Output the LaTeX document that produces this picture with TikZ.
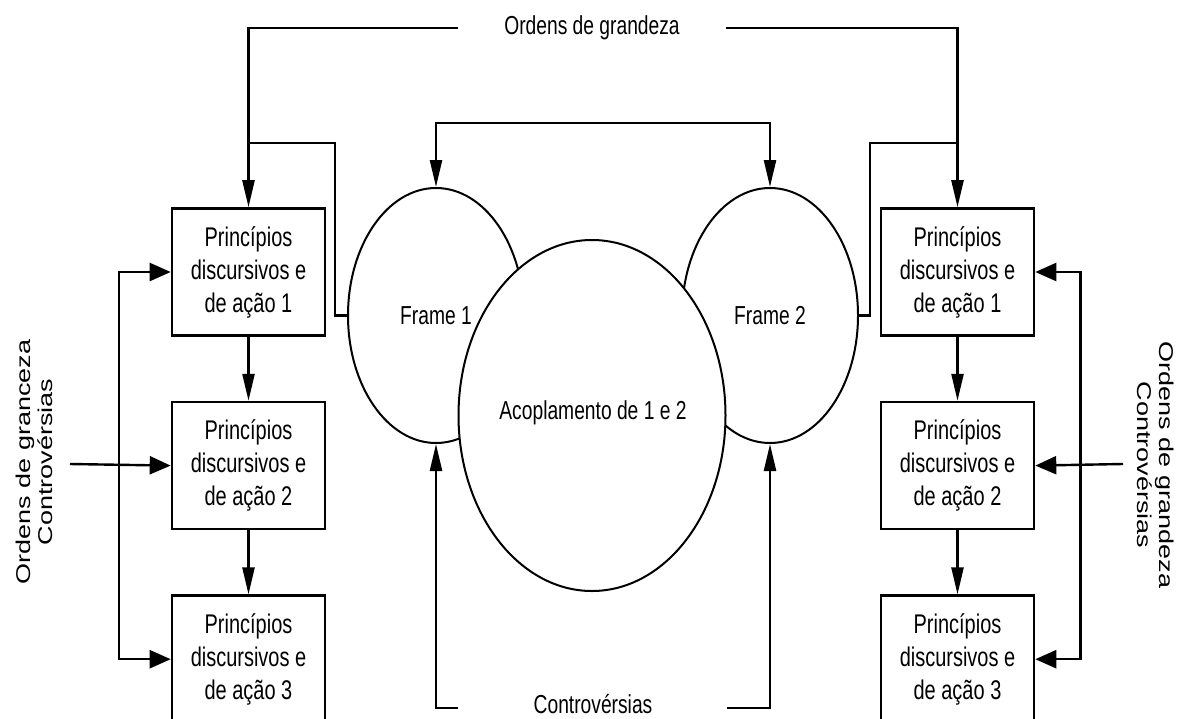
\documentclass[tikz,border=0pt]{standalone}
\usepackage{fontspec}
\setmainfont{Liberation Sans}
\newfontfamily\narrowsans[FakeStretch=0.74]{Liberation Sans}
\usetikzlibrary{arrows.meta,positioning,shapes.geometric}

\begin{document}
\begin{tikzpicture}[x=1pt, y=-1pt, node distance=64pt, line width=2.4pt,
    box/.style = {draw, line width=2.6pt, minimum width=153pt, minimum height=127pt,
        inner sep=0pt, align=center, font=\narrowsans\fontsize{27}{33}\selectfont},
    frame/.style = {draw, ellipse, line width=2pt, minimum width=176pt, minimum height=255pt,
        inner sep=0pt, font=\narrowsans\fontsize{26}{30}\selectfont},
    lbl/.style = {inner sep=0pt, font=\narrowsans\fontsize{26}{30}\selectfont},
    side/.style = {inner sep=0pt, align=center, font=\fontsize{27}{30}\selectfont},
    varr/.style = {-{Triangle[length=27pt,width=12pt]}},
    vboth/.style = {{Triangle[length=27pt,width=12pt]}-{Triangle[length=27pt,width=12pt]}},
    harr/.style = {-{Triangle[length=21pt,width=18pt]}},
    hboth/.style = {{Triangle[length=21pt,width=18pt]}-{Triangle[length=21pt,width=18pt]}}]
        \useasboundingbox (0,0) rectangle (1178,718);

        % left column
        \node[box] (pl1) at (248.5,272) {Princípios\\discursivos e\\de ação 1};
        \node[box] (pl2) [below=of pl1] {Princípios\\discursivos e\\de ação 2};
        \node[box] (pl3) [below=of pl2] {Princípios\\discursivos e\\de ação 3};
        % right column
        \node[box] (pr1) at (957.5,272) {Princípios\\discursivos e\\de ação 1};
        \node[box] (pr2) [below=of pr1] {Princípios\\discursivos e\\de ação 2};
        \node[box] (pr3) [below=of pr2] {Princípios\\discursivos e\\de ação 3};

        % frames and coupling
        \node[frame] (f1) at (436,315.5) {Frame 1};
        \node[frame] (f2) at (770,315.5) {Frame 2};
        \node[frame, fill=white, minimum width=267pt, minimum height=351pt] (ac) at (592,415.5) {};
        \node[lbl] (act) at (593,413) {Acoplamento de 1 e 2};

        % texts
        \node[lbl] (og) at (592,28) {Ordens de grandeza};
        \node[lbl] (ct) at (593,704) {Controvérsias};
        \node[side, rotate=90, yscale=0.74] (ogl) at (34,462) {Ordens de granceza\\Controvérsias};
        \node[side, rotate=-90, yscale=0.74] (ogr) at (1156,465) {Ordens de grandeza\\Controvérsias};

        \coordinate (tl) at (458,28);
        \coordinate (tr) at (726,28);
        \coordinate (jl) at (248.5,143);
        \coordinate (jr) at (957.5,143);
        \coordinate (tc) at (603,123);
        \coordinate (bl) at (458,708);
        \coordinate (br) at (727,708);
        \coordinate (al) at (70,464);
        \coordinate (ar) at (1123,464);

        % top
        \draw[varr] (tl) -| (pl1.north);
        \draw[varr] (tr) -| (pr1.north);
        \draw (jl) -- ++(86.5,0) |- (f1.west);
        \draw (jr) -- ++(-87.5,0) |- (f2.east);
        \draw[vboth] (f1.north) |- (tc) -| (f2.north);
        % bottom
        \draw[varr] (bl) -| (f1.south);
        \draw[varr] (br) -| (f2.south);
        % columns
        \draw[varr] (pl1) -- (pl2);
        \draw[varr] (pl2) -- (pl3);
        \draw[varr] (pr1) -- (pr2);
        \draw[varr] (pr2) -- (pr3);
        % sides
        \draw[harr] (al) -- (pl2.west);
        \draw[hboth] (pl1.west) -- ++(-52,0) |- (pl3.west);
        \draw[harr] (ar) -- (pr2.east);
        \draw[hboth] (pr1.east) -- ++(45,0) |- (pr3.east);
    \end{tikzpicture}
\end{document}
